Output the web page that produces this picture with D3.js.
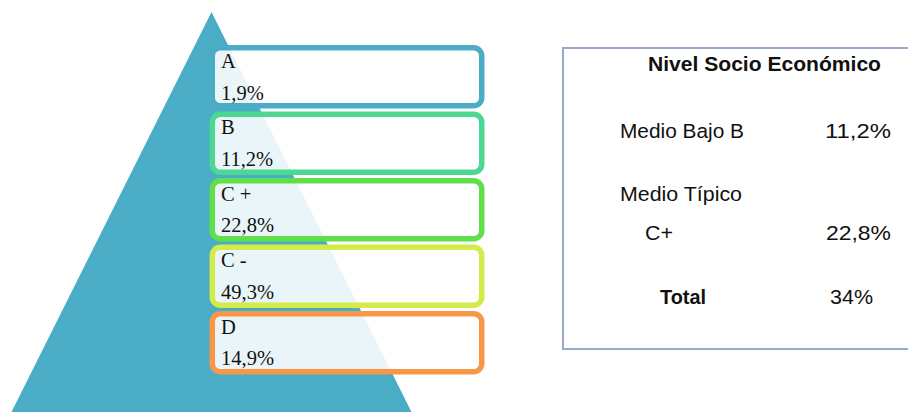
<!DOCTYPE html>
<html>
<head>
<meta charset="utf-8">
<script src="https://cdn.jsdelivr.net/npm/d3@7"></script>
<style>
  html, body { margin: 0; padding: 0; background: #fff; }
  svg { display: block; }
</style>
</head>
<body>
<div id="chart"></div>
<script>
// pyramid levels, top to bottom
const levels = ["A", "B", "C +", "C -", "D"];
const shares = [1.9, 11.2, 22.8, 49.3, 14.9];
const levelColors = ["#4bacc6", "#4cd792", "#5fe04a", "#d5eb4b", "#f89747"];

// side table
const tableTitle = "Nivel Socio Económico";
const tableLabels = ["Medio Bajo B", "Medio Típico", "C+", "Total"];
const tableValues = ["11,2%", "", "22,8%", "34%"];

const width = 908, height = 412;
const fmt = v => d3.format(".1f")(v).replace(".", ",") + "%";

const svg = d3.select("#chart")
  .append("svg")
  .attr("width", width)
  .attr("height", height);

// big triangle behind the boxes
const apex = [211.5, 12], baseY = 412, halfBase = 200;
svg.append("path")
  .attr("d", d3.line()([[apex[0], apex[1]], [apex[0] + halfBase, baseY], [apex[0] - halfBase, baseY]]) + "Z")
  .attr("fill", "#4bacc6");

const y = d3.scaleBand()
  .domain(levels)
  .range([45, 374.5])
  .paddingInner(0.045);

const sw = 5.5;
const boxX0 = 209.5, boxX1 = 484.5;

const box = svg.selectAll("g.level")
  .data(levels)
  .join("g")
  .attr("class", "level")
  .attr("transform", d => `translate(0,${y(d)})`);

box.append("rect")
  .attr("x", boxX0 + sw / 2)
  .attr("y", sw / 2)
  .attr("width", boxX1 - boxX0 - sw)
  .attr("height", y.bandwidth() - sw)
  .attr("rx", 8)
  .attr("fill", "#fff")
  .attr("fill-opacity", 0.88)
  .attr("stroke", (d, i) => levelColors[i])
  .attr("stroke-width", sw);

const serif = "'Liberation Serif', 'Times New Roman', serif";

box.append("text")
  .attr("x", 221)
  .attr("y", 23)
  .attr("font-family", serif)
  .attr("font-size", 20.5)
  .attr("fill", "#111")
  .text(d => d);

box.append("text")
  .attr("x", 221)
  .attr("y", 54.5)
  .attr("font-family", serif)
  .attr("font-size", 20.5)
  .attr("fill", "#111")
  .text((d, i) => fmt(shares[i]));

// table panel
svg.append("rect")
  .attr("x", 563)
  .attr("y", 48)
  .attr("width", 400)
  .attr("height", 301)
  .attr("fill", "none")
  .attr("stroke", "#97aac8")
  .attr("stroke-width", 2);

const sans = "'Liberation Sans', Arial, sans-serif";

svg.append("text")
  .attr("x", 648)
  .attr("y", 71)
  .attr("font-family", sans)
  .attr("font-weight", "bold")
  .attr("font-size", 20.5)
  .attr("fill", "#111")
  .attr("textLength", 233)
  .attr("lengthAdjust", "spacingAndGlyphs")
  .text(tableTitle);

const rowY = [137.5, 201, 240, 304];
const labelX = [620, 620, 645, 660];
const labelW = [124, 122, 28, 46];
const valueX = [825, 825, 826, 830];
const valueW = [66, 0, 65, 43];

svg.selectAll("text.tlabel")
  .data(tableLabels)
  .join("text")
  .attr("class", "tlabel")
  .attr("x", (d, i) => labelX[i])
  .attr("y", (d, i) => rowY[i])
  .attr("font-family", sans)
  .attr("font-size", 20.5)
  .attr("font-weight", d => d === "Total" ? "bold" : "normal")
  .attr("fill", "#111")
  .attr("textLength", (d, i) => labelW[i])
  .attr("lengthAdjust", "spacingAndGlyphs")
  .text(d => d);

svg.selectAll("text.tvalue")
  .data(tableValues.filter(d => d))
  .join("text")
  .attr("class", "tvalue")
  .attr("x", d => valueX[tableValues.indexOf(d)])
  .attr("y", d => rowY[tableValues.indexOf(d)])
  .attr("font-family", sans)
  .attr("font-size", 20.5)
  .attr("fill", "#111")
  .attr("textLength", d => valueW[tableValues.indexOf(d)])
  .attr("lengthAdjust", "spacingAndGlyphs")
  .text(d => d);
</script>
</body>
</html>
